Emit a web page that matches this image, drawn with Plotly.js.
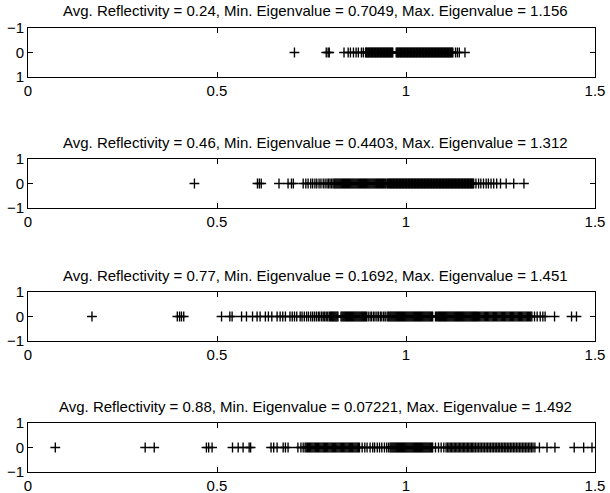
<!DOCTYPE html>
<html>
<head>
<meta charset="utf-8">
<script src="https://cdn.plot.ly/plotly-3.0.1.min.js"></script>
<style>html,body{margin:0;padding:0;background:#fff;}#chart{width:610px;height:493px;}</style>
</head>
<body>
<div id="chart"></div>
<script>
// Subplot titles
const titles = [
  "Avg. Reflectivity = 0.24, Min. Eigenvalue = 0.7049, Max. Eigenvalue = 1.156",
  "Avg. Reflectivity = 0.46, Min. Eigenvalue = 0.4403, Max. Eigenvalue = 1.312",
  "Avg. Reflectivity = 0.77, Min. Eigenvalue = 0.1692, Max. Eigenvalue = 1.451",
  "Avg. Reflectivity = 0.88, Min. Eigenvalue = 0.07221, Max. Eigenvalue = 1.492"
];
const xTickVals = [0, 0.5, 1, 1.5];
const xTickText = ["0", "0.5", "1", "1.5"];
const yTickVals = [-1, 0, 1];
const yTickText = ["\u22121", "0", "1"];

// Eigenvalues
const ev1 = [0.7049,0.789,0.794,0.797,0.836,0.847,0.853,0.861,0.868,0.874,0.882,0.887,
0.893,0.895,0.897,0.899,0.901,0.903,0.905,0.907,0.909,0.911,0.913,0.915,0.917,0.919,0.921,0.923,0.925,0.927,0.929,0.931,0.933,0.935,0.937,0.939,0.941,0.943,0.945,0.947,0.949,0.951,0.953,0.955,0.957,0.959,0.961,0.963,0.965,
0.974,0.976,0.978,0.980,0.982,0.984,0.986,0.988,0.990,0.992,0.994,0.996,0.998,1.000,1.002,1.004,1.006,1.008,1.010,1.012,1.014,1.016,1.018,1.020,1.022,1.024,1.026,1.028,1.030,1.032,1.034,1.036,1.038,1.040,1.042,1.044,1.046,1.048,1.050,1.052,1.054,1.056,1.058,1.060,1.062,1.064,1.066,1.068,1.070,1.072,1.074,1.076,1.078,1.080,1.082,1.084,1.086,1.088,1.090,1.092,1.094,1.096,1.098,1.100,1.102,1.104,1.106,1.108,1.110,1.112,1.114,1.116,1.118,1.120,1.122,1.124,
1.131,1.136,1.141,1.156];

const ev2 = [0.4403,0.607,0.612,0.617,0.664,0.688,0.697,0.702,0.728,0.735,0.741,0.748,0.753,0.759,0.764,0.770,0.775,0.781,0.786,0.791,0.795,0.799,0.803,0.807,
0.810,0.8125,0.815,0.8175,0.820,0.8225,0.825,0.8275,0.830,0.8325,0.835,0.8375,0.840,0.8425,0.845,0.8475,0.850,0.8525,0.855,0.8575,0.860,0.8625,0.865,0.8675,0.870,0.8725,0.875,0.8775,0.880,0.8825,0.885,0.8875,0.890,0.8925,0.895,0.8975,0.900,0.9025,0.905,0.9075,0.910,0.9125,0.915,0.9175,0.920,0.9225,0.925,0.9275,0.930,0.9325,0.935,0.9375,0.940,0.9425,0.945,0.9475,
0.951,0.953,0.955,0.957,0.959,0.961,0.963,0.965,0.967,0.969,0.971,0.973,0.975,0.977,0.979,0.981,0.983,0.985,0.987,0.989,0.991,0.993,0.995,0.997,0.999,1.001,1.003,1.005,1.007,1.009,1.011,1.013,1.015,1.017,1.019,1.021,1.023,1.025,1.027,1.029,1.031,1.033,1.035,1.037,1.039,1.041,1.043,1.045,1.047,1.049,1.051,1.053,1.055,1.057,1.059,1.061,1.063,1.065,1.067,1.069,1.071,1.073,1.075,1.077,1.079,1.081,1.083,1.085,1.087,1.089,1.091,1.093,1.095,1.097,1.099,1.101,1.103,1.105,1.107,1.109,1.111,1.113,1.115,1.117,1.119,1.121,1.123,1.125,1.127,1.129,1.131,1.133,1.135,1.137,1.139,1.141,1.143,1.145,1.147,1.149,1.151,1.153,1.155,1.157,1.159,1.161,1.163,1.165,1.167,1.169,1.171,1.173,1.175,1.177,1.179,
1.185,1.192,1.198,1.205,1.212,1.218,1.225,1.232,1.240,1.250,1.265,1.285,1.312];

const ev3 = [0.1692,0.395,0.401,0.406,0.412,0.512,0.534,0.540,0.565,0.578,0.594,0.606,0.614,0.628,0.636,0.645,0.659,0.667,0.674,0.681,0.693,0.699,0.705,0.711,0.720,0.725,0.731,0.737,0.742,0.748,0.753,0.758,0.763,0.768,0.772,0.777,0.781,0.785,0.789,0.793,0.797,
0.800,0.8025,0.805,0.8075,0.810,0.8125,0.815,0.8175,0.820,
0.828,0.8305,0.833,0.8355,0.838,0.8405,0.843,0.8455,0.848,0.8505,0.853,0.8555,0.858,0.8605,0.863,0.8655,0.868,0.8705,0.873,0.8755,0.878,0.8805,0.883,0.8855,0.888,0.8905,0.893,0.8955,
0.900,0.905,0.909,0.914,0.918,0.923,0.927,0.932,0.936,0.941,0.945,0.950,
0.953,0.9555,0.958,0.9605,0.963,0.9655,0.968,0.9705,0.973,0.9755,0.978,0.9805,0.983,0.9855,0.988,0.9905,0.993,0.9955,0.998,1.0005,1.003,1.0055,1.008,1.0105,1.013,1.0155,1.018,1.0205,1.023,1.0255,1.028,1.0305,1.033,1.0355,1.038,1.0405,1.043,1.0455,1.048,1.0505,1.053,1.0555,1.058,1.0605,1.063,1.0655,1.068,1.0705,
1.078,1.081,1.084,1.0865,1.089,1.0915,1.094,1.0965,1.099,1.1015,1.104,1.1065,1.109,1.1115,1.114,1.1165,1.119,1.1215,1.124,1.1265,1.129,1.1315,1.134,1.1365,1.139,1.1415,1.144,1.1465,1.149,1.1515,1.154,1.1565,1.159,1.1615,1.164,1.1665,1.169,1.1715,1.174,1.1765,1.179,1.1815,1.184,1.1865,1.189,
1.192,1.195,1.198,1.201,1.204,1.207,1.210,1.213,1.216,1.219,1.222,1.225,1.228,1.231,1.234,1.237,1.240,1.243,1.246,1.249,1.252,1.255,1.258,1.261,1.264,1.267,1.270,1.273,1.276,1.279,1.282,1.285,1.288,1.291,1.294,1.297,1.300,1.303,1.306,1.309,1.312,1.315,1.318,1.321,1.324,1.327,1.330,1.333,
1.340,1.347,1.355,1.362,1.368,1.393,1.438,1.451];

const ev4 = [0.07221,0.310,0.334,0.472,0.478,0.487,0.541,0.556,0.569,0.585,0.589,0.643,0.650,0.659,0.675,0.681,0.688,0.714,0.722,0.728,
0.733,0.736,0.739,0.742,0.745,0.748,0.751,0.754,0.757,0.760,0.763,0.766,0.769,0.772,0.775,0.778,0.781,0.784,0.787,0.790,0.793,0.796,0.799,0.802,0.805,0.808,0.811,0.814,0.817,0.820,0.823,0.826,0.829,0.832,0.835,0.838,0.841,0.844,0.847,0.850,0.853,0.856,0.859,0.862,0.865,0.868,0.871,0.874,0.877,
0.884,0.891,0.897,0.905,0.912,0.917,0.924,0.930,0.936,0.943,0.949,0.954,
0.958,0.9605,0.963,0.9655,0.968,0.9705,0.973,0.9755,0.978,0.9805,0.983,0.9855,0.988,0.9905,0.993,0.9955,0.998,1.0005,1.003,1.0055,1.008,1.0105,1.013,1.0155,1.018,1.0205,1.023,1.0255,1.028,1.0305,1.033,1.0355,1.038,1.0405,1.043,1.0455,1.048,1.0505,1.053,1.0555,1.058,1.0605,1.063,1.0655,1.068,1.0705,
1.078,1.086,1.093,1.100,1.106,
1.110,1.1135,1.117,1.1205,1.124,1.1275,1.131,1.1345,1.138,1.1415,1.145,1.1485,1.152,1.1555,1.159,1.1625,1.166,1.1695,1.173,1.1765,
1.180,1.184,1.188,1.192,1.196,1.200,1.204,1.208,1.212,1.216,1.220,1.224,1.228,1.232,1.236,1.240,1.244,1.248,1.252,1.256,1.260,1.264,1.268,1.272,1.276,1.280,1.284,1.288,1.292,1.296,1.300,1.304,1.308,1.312,1.316,1.320,1.324,1.328,1.332,1.336,
1.341,1.353,1.373,1.394,1.445,1.470,1.492];

const series = [ev1, ev2, ev3, ev4];

const W = 610, H = 493;
const FONT = {family: '"Liberation Sans", Arial, Helvetica, sans-serif', size: 15, color: '#000'};
// box pixel positions (top, bottom)
const boxes = [[28, 77], [159, 208], [292, 341], [423, 472]];
const xDom = [28 / W, 595 / W];

const data = [];
const layout = {
  width: W, height: H,
  margin: {l: 0, r: 0, t: 0, b: 0},
  paper_bgcolor: '#fff', plot_bgcolor: '#fff',
  showlegend: false,
  font: FONT,
  annotations: []
};

series.forEach((ev, i) => {
  const n = i + 1;
  const xa = 'x' + (n === 1 ? '' : n);
  const ya = 'y' + (n === 1 ? '' : n);
  data.push({
    type: 'scatter', mode: 'markers',
    x: ev, y: ev.map(() => 0),
    xaxis: xa, yaxis: ya,
    marker: {symbol: 'cross-thin', size: 7, line: {color: '#000', width: 1.35}, color: '#000'},
    hoverinfo: 'skip', cliponaxis: true
  });
  const [top, bot] = boxes[i];
  const yDom = [1 - bot / H, 1 - top / H];
  const axCommon = {
    showline: true, linecolor: '#000', linewidth: 1, mirror: 'ticks',
    ticks: 'inside', ticklen: 5, tickwidth: 1, tickcolor: '#000',
    showgrid: false, zeroline: false, fixedrange: true,
    tickfont: FONT
  };
  layout['xaxis' + (n === 1 ? '' : n)] = Object.assign({}, axCommon, {
    domain: xDom, range: [0, 1.5], anchor: ya,
    tickmode: 'array', tickvals: xTickVals, ticktext: xTickText
  });
  layout['yaxis' + (n === 1 ? '' : n)] = Object.assign({}, axCommon, {
    domain: yDom, range: n === 1 ? [1, -1] : [-1, 1], anchor: xa,
    tickmode: 'array', tickvals: yTickVals, ticktext: yTickText
  });
  layout.annotations.push({
    text: titles[i], xref: 'paper', yref: 'paper',
    x: (xDom[0] + xDom[1]) / 2 + 4 / W, y: 1 - (top - 17) / H,
    xanchor: 'center', yanchor: 'middle', showarrow: false, font: FONT
  });
});

Plotly.newPlot('chart', data, layout, {displayModeBar: false, staticPlot: true});
</script>
</body>
</html>
